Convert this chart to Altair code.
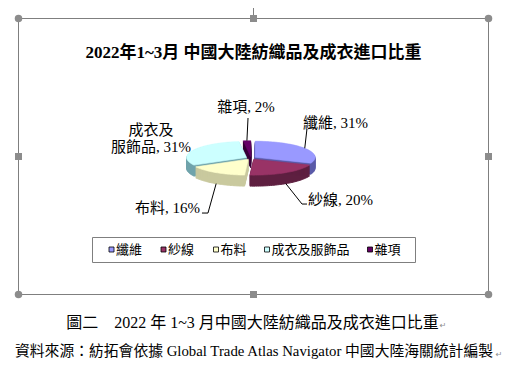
import json
import altair as alt
import pandas as pd

# ---------------- data ----------------
CATEGORIES = ["纖維", "紗線", "布料", "成衣及服飾品", "雜項"]
SHARES = [31, 20, 16, 31, 2]
LABEL_TEXT = ["纖維, 31%", "紗線, 20%", "布料, 16%", "成衣及\n服飾品, 31%", "雜項, 2%"]
TITLE = "2022年1~3月 中國大陸紡織品及成衣進口比重"
CAPTION = "圖二　2022 年 1~3 月中國大陸紡織品及成衣進口比重"
SOURCE = "資料來源：紡拓會依據 Global Trade Atlas Navigator 中國大陸海關統計編製"

# ---------------- styles ----------------
TOP_COLORS = ["#9999FF", "#993366", "#FFFFCC", "#CCFFFF", "#660066"]
SIDE_COLORS = ["#5A5AA8", "#5E1F40", "#C9C99E", "#6FA3AB", "#380038"]
SERIF = "Liberation Serif, Noto Sans CJK TC"
FRAME = "#7F7F7F"

# ---------------- layout (page pixels) ----------------
W, H = 507, 368
X0, Y0 = 8, 8
CX, CY, RX, RY, DEPTH, EXPLODE = 251, 158, 60, 16, 11, 5
N = 40
LABEL_DX = [-1.8, 22.2, -16.2, -42.1, -0.9]
LABEL_DY = [-25.3, 16.4, 24.4, -20.1, -33.7]
LABEL_ALIGN = ["left", "left", "right", "center", "center"]
ELBOW_DX = [2.2, 16.2, -8.2, 0, 1.1]
ELBOW_DY = [-19.3, 20.4, 29.4, 0, -22.7]
END_DX = [2.2, 21.2, -14.2, 0, 1.1]
END_DY = [-19.3, 20.4, 29.4, 0, -22.7]
HAS_LEADER = [1, 1, 1, 0, 1]
LEGEND_X = [111.5, 163.5, 216.0, 267.0, 370.0]
LEGEND_Y = 249.5

slices = pd.DataFrame({
    "category": CATEGORIES,
    "share": SHARES,
    "order": list(range(len(CATEGORIES))),
    "label": LABEL_TEXT,
})
ONE = pd.DataFrame({"a": [0]})

xs = alt.Scale(domain=[X0, X0 + W], nice=False, zero=False)
ys = alt.Scale(domain=[Y0, Y0 + H], nice=False, zero=False, reverse=True)


def X(f):
    return alt.X(f, type="quantitative", scale=xs, axis=None)


def Y(f):
    return alt.Y(f, type="quantitative", scale=ys, axis=None)


def XD(v):
    return alt.XDatum(v, type="quantitative", scale=xs, axis=None)


def YD(v):
    return alt.YDatum(v, type="quantitative", scale=ys, axis=None)


def arr(a):
    return json.dumps(a)


def geom():
    return (
        alt.Chart(slices)
        .transform_window(cum="sum(share)", sort=[alt.SortField("order")], frame=[None, 0])
        .transform_joinaggregate(total="sum(share)")
        .transform_calculate(a0="2*PI*(datum.cum - datum.share)/datum.total")
        .transform_calculate(a1="2*PI*datum.cum/datum.total")
        .transform_calculate(m="(datum.a0 + datum.a1)/2")
        .transform_calculate(ox=f"{EXPLODE}*sin(datum.m)")
        .transform_calculate(oy=f"-{EXPLODE}*cos(datum.m)*{RY}/{RX}")
        .transform_calculate(back="-cos(datum.m)")
        .transform_window(draw="row_number()", sort=[alt.SortField("back"), alt.SortField("order")])
    )


def face_points(r):
    return (
        geom()
        .transform_filter(f"datum.draw == {r}")
        .transform_calculate(steps=f"sequence(0, {N + 3})")
        .transform_flatten(["steps"], as_=["i"])
        .transform_calculate(rim=f"(datum.i > 0 && datum.i < {N + 2}) ? 1 : 0")
        .transform_calculate(t=f"datum.a0 + (datum.a1 - datum.a0)*clamp(datum.i - 1, 0, {N})/{N}")
        .transform_calculate(px=f"{CX} + datum.ox + datum.rim*{RX}*sin(datum.t)")
        .transform_calculate(py=f"{CY} + datum.oy - datum.rim*{RY}*cos(datum.t)")
    )


layers = []

# ---- frame & handles ----
layers.append(
    alt.Chart(ONE).mark_rect(fill="transparent", stroke=FRAME, strokeWidth=1).encode(
        x=XD(18.5), x2=alt.X2Datum(488.5), y=YD(18.5), y2=alt.Y2Datum(294.5)
    )
)
layers.append(
    alt.Chart(ONE).mark_rule(color=FRAME, strokeWidth=1).encode(
        x=XD(253.5), y=YD(5), y2=alt.Y2Datum(16)
    )
)
for (hx, hy) in [(18.5, 18.5), (488.5, 18.5), (18.5, 294.5), (488.5, 294.5)]:
    layers.append(
        alt.Chart(ONE).mark_point(shape="circle", filled=True, size=56, color="#8C8C8C", opacity=1).encode(
            x=XD(hx), y=YD(hy)
        )
    )
for (hx, hy) in [(253.5, 18.5), (253.5, 294.5), (18.5, 156.5), (488.5, 156.5)]:
    layers.append(
        alt.Chart(ONE).mark_point(shape="square", filled=True, size=49, color="#8C8C8C", opacity=1).encode(
            x=XD(hx), y=YD(hy)
        )
    )
layers.append(
    alt.Chart(ONE).mark_point(shape="circle", filled=True, size=49, color="#2EDB2E", stroke="#1E9E1E",
                              strokeWidth=0.8, opacity=1).encode(x=XD(253.5), y=YD(1.5))
)

# ---- title ----
layers.append(
    alt.Chart(ONE).mark_text(font=SERIF, fontSize=17, fontWeight="bold", color="black",
                             align="center", baseline="middle").encode(
        x=XD(253.5), y=YD(53), text=alt.value(TITLE)
    )
)

# ---- pie (drawn back to front) ----
for r in range(1, len(CATEGORIES) + 1):
    side = (
        face_points(r)
        .transform_calculate(ks=f"sequence(1, {DEPTH + 1})")
        .transform_flatten(["ks"], as_=["k"])
        .transform_calculate(pyk="datum.py + datum.k")
        .transform_calculate(sc=f"{arr(SIDE_COLORS)}[datum.order]")
        .mark_line(filled=True, strokeWidth=1, strokeJoin="round")
        .encode(
            x=X("px"), y=Y("pyk"), order=alt.Order("i:Q"), detail="k:O",
            color=alt.Color("sc:N", scale=None), stroke=alt.Stroke("sc:N", scale=None),
        )
    )
    top = (
        face_points(r)
        .transform_calculate(tc=f"{arr(TOP_COLORS)}[datum.order]")
        .mark_line(filled=True, strokeWidth=0.6, strokeJoin="round")
        .encode(
            x=X("px"), y=Y("py"), order=alt.Order("i:Q"),
            color=alt.Color("tc:N", scale=None), stroke=alt.Stroke("tc:N", scale=None),
        )
    )
    layers += [side, top]


def rim_base():
    return (
        geom()
        .transform_calculate(rimx=f"{CX} + datum.ox + {RX}*sin(datum.m)")
        .transform_calculate(rimy=f"{CY} + datum.oy - {RY}*cos(datum.m) + (cos(datum.m) < 0 ? {DEPTH} : 0)")
    )


# ---- leader lines ----
leaders = (
    rim_base()
    .transform_filter(f"{arr(HAS_LEADER)}[datum.order] == 1")
    .transform_calculate(js="sequence(0, 3)")
    .transform_flatten(["js"], as_=["j"])
    .transform_calculate(
        lx=f"datum.j == 0 ? datum.rimx : (datum.j == 1 ? datum.rimx + {arr(ELBOW_DX)}[datum.order] : datum.rimx + {arr(END_DX)}[datum.order])"
    )
    .transform_calculate(
        ly=f"datum.j == 0 ? datum.rimy : (datum.j == 1 ? datum.rimy + {arr(ELBOW_DY)}[datum.order] : datum.rimy + {arr(END_DY)}[datum.order])"
    )
    .mark_line(color="black", strokeWidth=1)
    .encode(x=X("lx"), y=Y("ly"), order=alt.Order("j:Q"), detail="category:N")
)
layers.append(leaders)

# ---- data labels ----
for al in ["left", "center", "right"]:
    lab = (
        rim_base()
        .transform_calculate(al=f"{arr(LABEL_ALIGN)}[datum.order]")
        .transform_filter(f"datum.al == '{al}'")
        .transform_calculate(tx=f"datum.rimx + {arr(LABEL_DX)}[datum.order]")
        .transform_calculate(ty=f"datum.rimy + {arr(LABEL_DY)}[datum.order]")
        .mark_text(font=SERIF, fontSize=15, color="black", align=al, baseline="middle",
                   lineBreak="\n", lineHeight=17)
        .encode(x=X("tx"), y=Y("ty"), text="label:N")
    )
    layers.append(lab)

# ---- legend ----
layers.append(
    alt.Chart(ONE).mark_rect(fill="transparent", stroke=FRAME, strokeWidth=1).encode(
        x=XD(92.5), x2=alt.X2Datum(415.5), y=YD(237.5), y2=alt.Y2Datum(262.5)
    )
)
legend_base = (
    alt.Chart(slices)
    .transform_calculate(lgx=f"{arr(LEGEND_X)}[datum.order]")
    .transform_calculate(lgy=f"{LEGEND_Y}")
    .transform_calculate(lc=f"{arr(TOP_COLORS)}[datum.order]")
    .transform_calculate(tx="datum.lgx + 4.5")
)
layers.append(
    legend_base.mark_point(shape="square", filled=True, size=25, stroke="black", strokeWidth=0.8, opacity=1)
    .encode(x=X("lgx"), y=Y("lgy"), fill=alt.Fill("lc:N", scale=None))
)
layers.append(
    legend_base.mark_text(font=SERIF, fontSize=13, color="black", align="left", baseline="middle")
    .encode(x=X("tx"), y=Y("lgy"), text="category:N")
)

# ---- caption below ----
layers.append(
    alt.Chart(ONE).mark_text(font=SERIF, fontSize=16, color="black", align="center", baseline="middle").encode(
        x=XD(252.5), y=YD(323), text=alt.value(CAPTION)
    )
)
layers.append(
    alt.Chart(ONE).mark_text(font=SERIF, fontSize=14.8, color="black", align="center", baseline="middle").encode(
        x=XD(254), y=YD(352), text=alt.value(SOURCE)
    )
)
for (rx_, ry_) in [(443, 326), (499, 355)]:
    layers.append(
        alt.Chart(ONE).mark_text(font="DejaVu Sans", fontSize=8, color="#8C8C8C", align="center",
                                 baseline="middle").encode(x=XD(rx_), y=YD(ry_), text=alt.value("↵"))
    )

chart = (
    alt.layer(*layers)
    .properties(width=W, height=H, padding=0, autosize="none", background="white")
    .configure_view(stroke="transparent")
)

chart.save("out.html", embed_options={"renderer": "svg", "actions": False})
